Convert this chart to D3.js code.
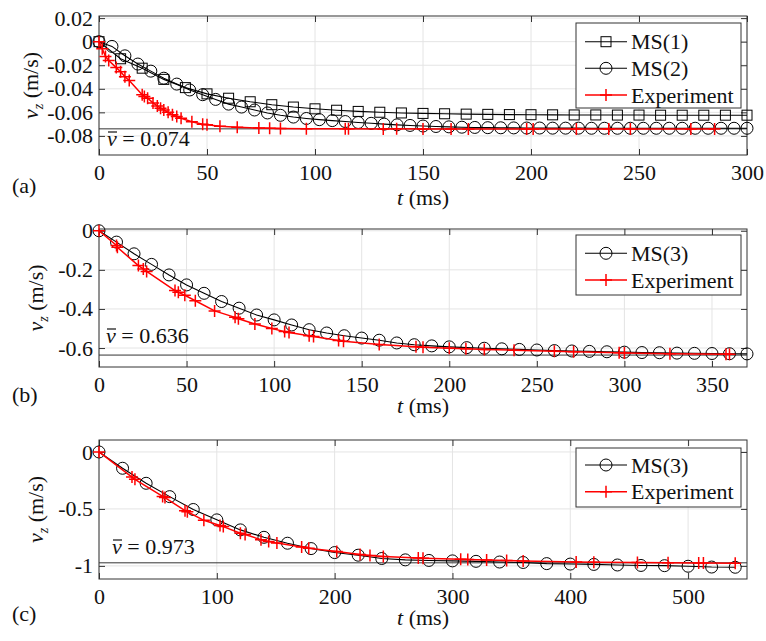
<!DOCTYPE html>
<html>
<head>
<meta charset="utf-8">
<script src="https://cdn.jsdelivr.net/npm/d3@7"></script>
<style>
  body { margin: 0; background: #fff; }
  svg text { font-family: 'Liberation Serif', 'DejaVu Serif', 'Times New Roman', serif; fill: #111; }
</style>
</head>
<body>
<svg id="fig" width="766" height="641"></svg>
<script>
// ---- panel (a) ----
const tA1 = [0,10,20,30,40,50,60,70,80,90,100,110,120,130,140,150,160,170,180,190,200,210,220,230,240,250,260,270,280,290,300];
const vA1 = [0,-0.0145,-0.0225,-0.032,-0.039,-0.0443,-0.048,-0.051,-0.0535,-0.0555,-0.057,-0.0582,-0.0592,-0.0599,-0.0605,-0.0609,-0.0612,-0.0615,-0.0617,-0.0619,-0.062,-0.0621,-0.0622,-0.0622,-0.0623,-0.0623,-0.0624,-0.0624,-0.0624,-0.0624,-0.0624];
const tA2 = [0,6,12,18,24,30,36,42,48,54,60,66,72,78,84,90,96,102,108,114,120,126,132,138,144,150,156,162,168,174,180,186,192,198,204,210,216,222,228,234,240,246,252,258,264,270,276,282,288,294,300];
const vA2 = [0,-0.004,-0.012,-0.019,-0.025,-0.031,-0.036,-0.041,-0.045,-0.049,-0.053,-0.0555,-0.058,-0.0605,-0.0625,-0.064,-0.0652,-0.0662,-0.067,-0.0678,-0.0686,-0.0693,-0.07,-0.0706,-0.0711,-0.0716,-0.072,-0.0723,-0.0726,-0.0728,-0.073,-0.0731,-0.0732,-0.0733,-0.0733,-0.0734,-0.0734,-0.0734,-0.0735,-0.0735,-0.0735,-0.0735,-0.0735,-0.0735,-0.0735,-0.0735,-0.0735,-0.0735,-0.0735,-0.0735,-0.0735];
const tAe = [0,1.5,3,4.5,8,10,12,14,20,21,22.5,25,27,28.5,30,32,34,36,38,43,48,50,56,64,74,79,84,96,114,115.5,131.6,137.8,150,163,171,198,201,221,236,246,274,285];
const vAe = [0,-0.006,-0.0125,-0.016,-0.022,-0.0256,-0.0298,-0.033,-0.045,-0.0465,-0.048,-0.052,-0.0545,-0.0565,-0.058,-0.06,-0.062,-0.0635,-0.065,-0.068,-0.07,-0.0705,-0.0718,-0.0727,-0.0733,-0.0735,-0.0737,-0.0739,-0.074,-0.074,-0.0741,-0.074,-0.0741,-0.0741,-0.0742,-0.0741,-0.0741,-0.0742,-0.0741,-0.0742,-0.0742,-0.0741];
const xTicksA = [0,50,100,150,200,250,300];
const yTicksA = [0.02,0,-0.02,-0.04,-0.06,-0.08];
const yLabelsA = ["0.02","0","-0.02","-0.04","-0.06","-0.08"];

// ---- panel (b) ----
const tB = [0,10,20,30,40,50,60,70,80,90,100,110,120,130,140,150,160,170,180,190,200,210,220,230,240,250,260,270,280,290,300,310,320,330,340,350,360,370];
const vB = [0,-0.058,-0.118,-0.172,-0.226,-0.277,-0.32,-0.362,-0.396,-0.431,-0.456,-0.482,-0.506,-0.523,-0.537,-0.549,-0.56,-0.574,-0.583,-0.589,-0.594,-0.598,-0.601,-0.604,-0.607,-0.61,-0.613,-0.615,-0.617,-0.619,-0.621,-0.623,-0.624,-0.626,-0.627,-0.628,-0.629,-0.63];
const tBe = [0,10,10.5,22.5,25.3,27.2,43.4,45.3,49,55,66,77.7,79.6,89,98.7,106,108.5,120,122.5,136.8,139.6,160,181,185,200,209.5,220,237,260,271,297,300,326,358,360];
const vBe = [0,-0.075,-0.085,-0.178,-0.195,-0.208,-0.306,-0.315,-0.33,-0.358,-0.41,-0.443,-0.45,-0.477,-0.5,-0.516,-0.52,-0.537,-0.541,-0.562,-0.565,-0.582,-0.594,-0.596,-0.601,-0.604,-0.607,-0.611,-0.616,-0.619,-0.624,-0.625,-0.629,-0.632,-0.632];
const xTicksB = [0,50,100,150,200,250,300,350];
const yTicksB = [0,-0.2,-0.4,-0.6];
const yLabelsB = ["0","-0.2","-0.4","-0.6"];

// ---- panel (c) ----
const tC = [0,20,40,60,80,100,120,140,160,180,200,220,240,260,280,300,320,340,360,380,400,420,440,460,480,500,520,540];
const vC = [0,-0.143,-0.275,-0.392,-0.505,-0.596,-0.684,-0.749,-0.801,-0.848,-0.883,-0.906,-0.935,-0.947,-0.952,-0.956,-0.96,-0.966,-0.97,-0.98,-0.984,-0.987,-0.992,-0.996,-0.998,-1.003,-1.01,-1.012];
const tCe = [0,28,30.5,54,56,73,75,89,102.7,105.5,120,124,137.5,144,151,172,178,201.8,221.6,230,241.3,271,275,307,313,329,346,360,405,420,457,483,509,513,540];
const vCe = [0,-0.22,-0.24,-0.39,-0.4,-0.515,-0.525,-0.6,-0.645,-0.655,-0.713,-0.725,-0.77,-0.785,-0.8,-0.835,-0.845,-0.874,-0.9,-0.908,-0.918,-0.93,-0.932,-0.942,-0.944,-0.948,-0.953,-0.958,-0.965,-0.967,-0.97,-0.972,-0.974,-0.974,-0.976];
const xTicksC = [0,100,200,300,400,500];
const yTicksC = [0,-0.5,-1];
const yLabelsC = ["0","-0.5","-1"];

const vbarValues = [0.074, 0.636, 0.973];
const panelLetters = ["(a)", "(b)", "(c)"];

const svg = d3.select("#fig");
const FONT = 22;
const L = 99, R = 747;
const RED = "#ff0000";

const zip = (ts, vs) => ts.map((t, i) => ({ t: t, v: vs[i] }));

const panels = [
  {
    top: 16, bottom: 155, xDomain: [0, 300], yDomain: [-0.0962, 0.0218],
    xTicks: xTicksA, yTicks: yTicksA, yLabels: yLabelsA, yLabelX: 38, xLabelDy: 50,
    vbar: vbarValues[0], vbarPos: [107, 146], letter: panelLetters[0], letterY: 193,
    series: [
      { name: "MS(1)", data: zip(tA1, vA1), color: "#000", marker: "square", width: 1.1 },
      { name: "MS(2)", data: zip(tA2, vA2), color: "#000", marker: "circle", width: 1.1 },
      { name: "Experiment", data: zip(tAe, vAe), color: RED, marker: "plus", width: 1.5 }
    ],
    legend: { x: 576, y: 23, w: 165, h: 85, rows: [41.7, 68.3, 95] }
  },
  {
    top: 229, bottom: 367, xDomain: [0, 370], yDomain: [-0.697, 0.009],
    xTicks: xTicksB, yTicks: yTicksB, yLabels: yLabelsB, yLabelX: 43, xLabelDy: 46,
    vbar: vbarValues[1], vbarPos: [106, 343], letter: panelLetters[1], letterY: 402,
    series: [
      { name: "MS(3)", data: zip(tB, vB), color: "#000", marker: "circle", width: 1.1 },
      { name: "Experiment", data: zip(tBe, vBe), color: RED, marker: "plus", width: 1.5 }
    ],
    legend: { x: 576, y: 235, w: 165, h: 60, rows: [253.3, 280] }
  },
  {
    top: 440, bottom: 579, xDomain: [0, 550], yDomain: [-1.115, 0.105],
    xTicks: xTicksC, yTicks: yTicksC, yLabels: yLabelsC, yLabelX: 43, xLabelDy: 46,
    vbar: vbarValues[2], vbarPos: [112, 554], letter: panelLetters[2], letterY: 621,
    series: [
      { name: "MS(3)", data: zip(tC, vC), color: "#000", marker: "circle", width: 1.1 },
      { name: "Experiment", data: zip(tCe, vCe), color: RED, marker: "plus", width: 1.5 }
    ],
    legend: { x: 576, y: 448, w: 165, h: 59, rows: [465, 491.7] }
  }
];

function drawMarker(sel, type, color) {
  if (type === "circle") {
    sel.append("circle").attr("r", 6).attr("fill", "none").attr("stroke", color).attr("stroke-width", 1);
  } else if (type === "square") {
    sel.append("rect").attr("x", -5).attr("y", -5).attr("width", 10).attr("height", 10)
      .attr("fill", "none").attr("stroke", color).attr("stroke-width", 1);
  } else {
    sel.append("path").attr("d", "M-6,0H6M0,-6V6").attr("stroke", color).attr("stroke-width", 1.5);
  }
}

function styleAxis(g) {
  g.attr("font-family", null).attr("font-size", FONT);
  g.select(".domain").remove();
  g.selectAll(".tick line").attr("stroke", "#333");
}

panels.forEach(p => {
  const x = d3.scaleLinear().domain(p.xDomain).range([L, R]);
  const y = d3.scaleLinear().domain(p.yDomain).range([p.bottom, p.top]);
  const g = svg.append("g");

  // grid
  g.selectAll(".gx").data(p.xTicks).join("line")
    .attr("x1", d => x(d)).attr("x2", d => x(d))
    .attr("y1", p.top).attr("y2", p.bottom)
    .attr("stroke", "#e4e4e4").attr("stroke-width", 1);
  g.selectAll(".gy").data(p.yTicks).join("line")
    .attr("x1", L).attr("x2", R)
    .attr("y1", d => y(d)).attr("y2", d => y(d))
    .attr("stroke", "#e4e4e4").attr("stroke-width", 1);

  // axes (inward ticks on all four sides)
  g.append("g").attr("transform", `translate(0,${p.bottom})`)
    .call(d3.axisBottom(x).tickValues(p.xTicks).tickSize(-6).tickPadding(9).tickFormat(d3.format("d")))
    .call(styleAxis);
  g.append("g").attr("transform", `translate(0,${p.top})`)
    .call(d3.axisTop(x).tickValues(p.xTicks).tickSize(-6).tickFormat(""))
    .call(styleAxis);
  g.append("g").attr("transform", `translate(${L},0)`)
    .call(d3.axisLeft(y).tickValues(p.yTicks).tickSize(-6).tickPadding(6)
      .tickFormat((d, i) => p.yLabels[i]))
    .call(styleAxis);
  g.append("g").attr("transform", `translate(${R},0)`)
    .call(d3.axisRight(y).tickValues(p.yTicks).tickSize(-6).tickFormat(""))
    .call(styleAxis);

  // mean speed line
  g.append("line")
    .attr("x1", L).attr("x2", R)
    .attr("y1", y(-p.vbar)).attr("y2", y(-p.vbar))
    .attr("stroke", "#333").attr("stroke-width", 1);

  // box
  g.append("rect").attr("x", L).attr("y", p.top)
    .attr("width", R - L).attr("height", p.bottom - p.top)
    .attr("fill", "none").attr("stroke", "#333").attr("stroke-width", 1);

  // v-bar label, bar drawn over the italic v
  const vt = g.append("text").attr("x", p.vbarPos[0]).attr("y", p.vbarPos[1]).attr("font-size", FONT);
  vt.append("tspan").attr("font-style", "italic").text("v");
  vt.append("tspan").text(" = " + d3.format(".3f")(p.vbar));
  g.append("line")
    .attr("x1", p.vbarPos[0] + 1).attr("x2", p.vbarPos[0] + 10)
    .attr("y1", p.vbarPos[1] - 14).attr("y2", p.vbarPos[1] - 14)
    .attr("stroke", "#111").attr("stroke-width", 1.2);

  // series
  const line = d3.line().x(d => x(d.t)).y(d => y(d.v));
  p.series.forEach(s => {
    g.append("path").datum(s.data)
      .attr("d", line).attr("fill", "none")
      .attr("stroke", s.color).attr("stroke-width", s.width);
    g.append("g").selectAll("g").data(s.data).join("g")
      .attr("transform", d => `translate(${x(d.t)},${y(d.v)})`)
      .each(function () { drawMarker(d3.select(this), s.marker, s.color); });
  });

  // legend
  const lg = g.append("g");
  lg.append("rect").attr("x", p.legend.x).attr("y", p.legend.y)
    .attr("width", p.legend.w).attr("height", p.legend.h)
    .attr("fill", "#fff").attr("stroke", "#333").attr("stroke-width", 1);
  p.series.forEach((s, i) => {
    const cy = p.legend.rows[i];
    lg.append("line").attr("x1", p.legend.x + 9).attr("x2", p.legend.x + 51)
      .attr("y1", cy).attr("y2", cy).attr("stroke", s.color).attr("stroke-width", s.width);
    const m = lg.append("g").attr("transform", `translate(${p.legend.x + 30},${cy})`);
    drawMarker(m, s.marker, s.color);
    lg.append("text").attr("x", p.legend.x + 55).attr("y", cy + 7.5)
      .attr("font-size", FONT).text(s.name);
  });

  // axis labels
  const xl = g.append("text").attr("x", (L + R) / 2).attr("y", p.bottom + p.xLabelDy)
    .attr("text-anchor", "middle").attr("font-size", FONT);
  xl.append("tspan").attr("font-style", "italic").text("t");
  xl.append("tspan").text(" (ms)");

  const yl = g.append("text")
    .attr("transform", `translate(${p.yLabelX},${(p.top + p.bottom) / 2}) rotate(-90)`)
    .attr("text-anchor", "middle").attr("font-size", FONT);
  yl.append("tspan").attr("font-style", "italic").text("v");
  yl.append("tspan").attr("font-style", "italic").attr("font-size", 14).attr("dy", 5).text("z");
  yl.append("tspan").attr("dy", -5).text(" (m/s)");

  g.append("text").attr("x", 12).attr("y", p.letterY).attr("font-size", FONT).text(p.letter);
});
</script>
</body>
</html>
